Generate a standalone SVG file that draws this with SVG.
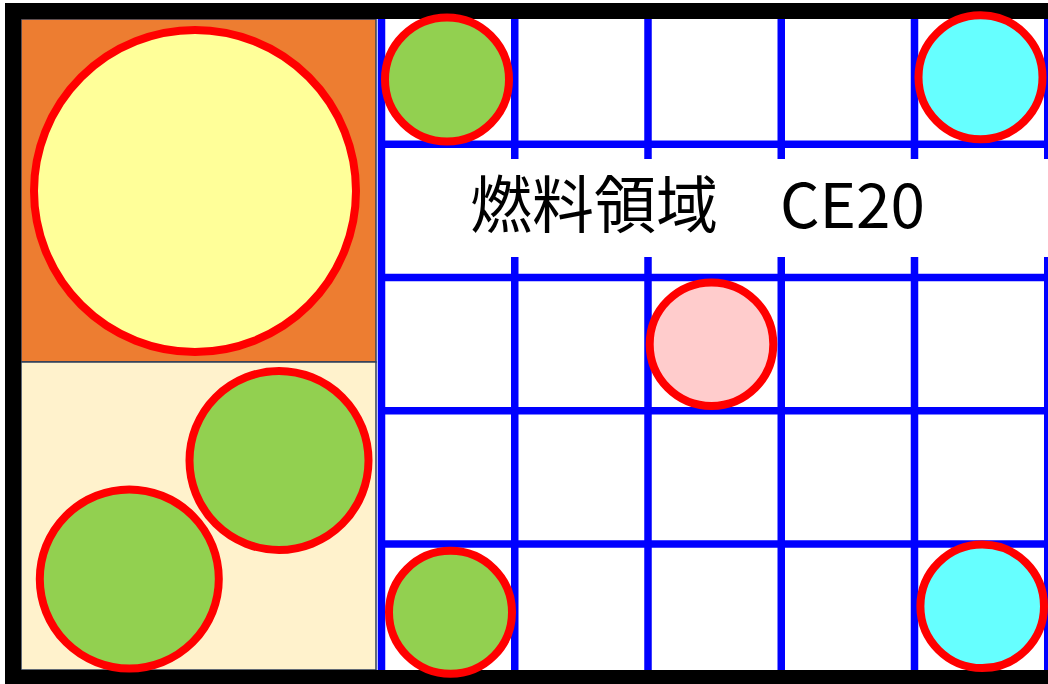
<svg xmlns="http://www.w3.org/2000/svg" width="1048" height="684" viewBox="0 0 1048 684">
  <style>
    .grid { stroke: #0000FF; stroke-width: 7.5; fill: none; }
    .pin { stroke: #FF0000; stroke-width: 8; }
    .box { stroke: #2F3E5A; stroke-width: 1.5; }
    .label { font-family: "Noto Sans CJK JP", "Noto Sans", sans-serif; font-size: 62px; fill: #000000; }
  </style>
  <rect x="0" y="0" width="1048" height="684" fill="#FFFFFF"/>
  <g id="grid">
    <line class="grid" x1="381.5" y1="11" x2="381.5" y2="677"/>
    <line class="grid" x1="514.75" y1="11" x2="514.75" y2="677"/>
    <line class="grid" x1="648" y1="11" x2="648" y2="677"/>
    <line class="grid" x1="781.25" y1="11" x2="781.25" y2="677"/>
    <line class="grid" x1="914.5" y1="11" x2="914.5" y2="677"/>
    <line class="grid" x1="1047.75" y1="11" x2="1047.75" y2="677"/>
    <line class="grid" x1="381.5" y1="144.25" x2="1048" y2="144.25"/>
    <line class="grid" x1="381.5" y1="277.5" x2="1048" y2="277.5"/>
    <line class="grid" x1="381.5" y1="410.75" x2="1048" y2="410.75"/>
    <line class="grid" x1="381.5" y1="544" x2="1048" y2="544"/>
  </g>
  <g id="label">
    <rect x="386" y="159" width="662" height="98" fill="#FFFFFF"/>
    <text class="label" x="470" y="228">燃料領域　CE20</text>
  </g>
  <g id="region-upper">
    <rect class="box" x="21" y="19" width="355" height="343" fill="#ED7D31"/>
  </g>
  <g id="region-lower">
    <rect class="box" x="21" y="362" width="355" height="308" fill="#FFF2CC"/>
  </g>
  <g id="frame">
    <rect x="13" y="11" width="1050" height="667" fill="none" stroke="#000000" stroke-width="16"/>
  </g>
  <g id="circle-yellow"><circle class="pin" cx="195" cy="191" r="161" fill="#FFFF99"/></g>
  <g id="circle-green-1"><circle class="pin" cx="279" cy="460.5" r="89.5" fill="#92D050"/></g>
  <g id="circle-green-2"><circle class="pin" cx="129.3" cy="579" r="89.5" fill="#92D050"/></g>
  <g id="circle-green-3"><circle class="pin" cx="447" cy="79.5" r="62" fill="#92D050"/></g>
  <g id="circle-green-4"><circle class="pin" cx="450.5" cy="612.3" r="61.5" fill="#92D050"/></g>
  <g id="circle-cyan-1"><circle class="pin" cx="980.5" cy="77.3" r="62" fill="#66FFFF"/></g>
  <g id="circle-cyan-2"><circle class="pin" cx="982.2" cy="606.3" r="61.8" fill="#66FFFF"/></g>
  <g id="circle-pink"><circle class="pin" cx="711.5" cy="344.2" r="61.8" fill="#FFCCCC"/></g>
</svg>
